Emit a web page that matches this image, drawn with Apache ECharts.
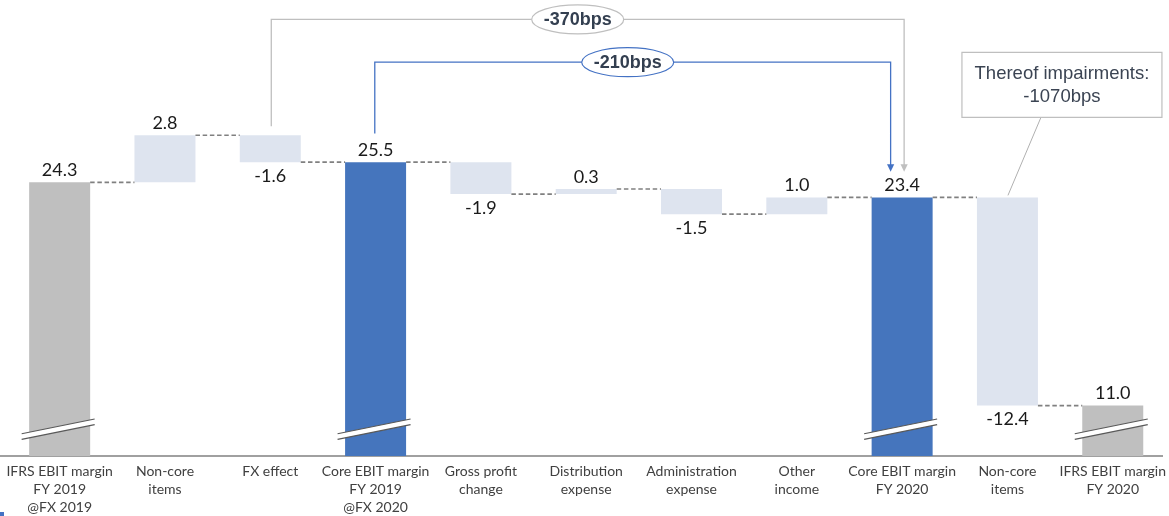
<!DOCTYPE html>
<html><head><meta charset="utf-8">
<script src="https://cdn.jsdelivr.net/npm/echarts@6/dist/echarts.min.js"></script>
<style>html,body{margin:0;padding:0;background:#fff}#c{width:1169px;height:516px}</style>
</head><body><div id="c"></div>
<script>
// ---- data ----
const categories = [
  'IFRS EBIT margin\nFY 2019\n@FX 2019', 'Non-core\nitems', 'FX effect',
  'Core EBIT margin\nFY 2019\n@FX 2020', 'Gross profit\nchange', 'Distribution\nexpense',
  'Administration\nexpense', 'Other\nincome', 'Core EBIT margin\nFY 2020',
  'Non-core\nitems', 'IFRS EBIT margin\nFY 2020'
];
const values = [24.3, 2.8, -1.6, 25.5, -1.9, 0.3, -1.5, 1.0, 23.4, -12.4, 11.0];
const kinds  = ['gray', 'delta', 'delta', 'blue', 'delta', 'delta', 'delta', 'delta', 'blue', 'delta', 'gray'];
const bracketFrom = [2, 3];      // category index where each bracket starts
const bracketTo   = [8, 8];      // category index where each bracket ends (arrow)
const bracketTop  = [34.0, 31.45]; // level of horizontal part of each bracket
const calloutIndex = 9;
const calloutText = 'Thereof impairments:\n-1070bps';

// ---- styling ----
const Y_MIN = 8, Y_MAX = 34.5, BREAK_LEVEL = 9.6, BAR_W = 61;
const COLORS = { gray: '#bfbfbf', blue: '#4575bd', delta: '#dee4ef' };
const BRACKET_STYLE = [
  { color: '#bfbfbf', startDx: 1, startDy: -9, endDx: 2, labelDx: -10 },
  { color: '#4472c4', startDx: -0.8, startDy: -28.7, endDx: -11.5, labelDx: -5 }
];

// running levels
const lows = [], highs = [], ends = [];
let run = 0;
values.forEach((v, i) => {
  if (kinds[i] !== 'delta') { lows.push(0); highs.push(v); run = v; }
  else { const s = run; run = Math.round((run + v) * 10) / 10; lows.push(Math.min(s, run)); highs.push(Math.max(s, run)); }
  ends.push(run);
});

const baseData = values.map((v, i) => kinds[i] === 'delta' ? lows[i] : 0);
const visData = values.map((v, i) => ({
  value: kinds[i] === 'delta' ? Math.abs(v) : v,
  itemStyle: { color: COLORS[kinds[i]] },
  label: (kinds[i] === 'delta' && v < 0) ? { position: 'bottom', distance: 5 } : { position: 'top', distance: 3 }
}));
const connData = ends.slice(0, -1).map((e, i) => [i, e]);
const breakData = kinds.map((k, i) => k !== 'delta' ? [i, BREAK_LEVEL] : null).filter(Boolean);
const bracketData = bracketFrom.map((f, j) => [f, highs[f], bracketTo[j], ends[bracketTo[j]], bracketTop[j], j]);

const chart = echarts.init(document.getElementById('c'), null, { renderer: 'canvas' });
chart.setOption({
  animation: false,
  grid: { left: 7, right: 3, top: 11, bottom: 60 },
  xAxis: {
    type: 'category', data: categories,
    axisLine: { show: false }, axisTick: { show: false },
    axisLabel: { interval: 0, margin: 6, fontFamily: 'Lato', fontSize: 14, lineHeight: 18, color: '#404040' }
  },
  yAxis: { type: 'value', min: Y_MIN, max: Y_MAX, show: false, splitLine: { show: false } },
  graphic: [
    { type: 'line', shape: { x1: 0, y1: 456, x2: 1163, y2: 456 }, style: { stroke: '#a0a0a0', lineWidth: 2 } },
    { type: 'rect', shape: { x: 0, y: 512, width: 4, height: 4 }, style: { fill: '#4472c4' } }
  ],
  series: [
    { type: 'bar', stack: 'w', data: baseData, barWidth: BAR_W, itemStyle: { color: 'transparent' }, silent: true, z: 2 },
    {
      type: 'bar', stack: 'w', data: visData, barWidth: BAR_W, z: 2,
      label: {
        show: true, fontFamily: 'Lato', fontSize: 18, color: '#1a1a1a',
        formatter: p => values[p.dataIndex].toFixed(1)
      }
    },
    {
      type: 'custom', z: 3, data: connData,
      renderItem: (params, api) => {
        const i = api.value(0), lvl = api.value(1);
        const a = api.coord([i, lvl]), b = api.coord([i + 1, lvl]);
        return { type: 'line', shape: { x1: a[0] + BAR_W / 2, y1: a[1], x2: b[0] - BAR_W / 2, y2: b[1] },
          style: { stroke: '#808080', lineWidth: 1.7, lineDash: [4.5, 2.7] } };
      }
    },
    {
      type: 'custom', z: 4, data: breakData,
      renderItem: (params, api) => {
        const c = api.coord([api.value(0), api.value(1)]);
        const x0 = c[0] - 38, x1 = c[0] + 35, yl = c[1] + 7.4, yr = c[1] - 7.3, h = 2.8;
        return { type: 'group', children: [
          { type: 'polygon', shape: { points: [[x0, yl - h], [x1, yr - h], [x1, yr + h], [x0, yl + h]] }, style: { fill: '#fff' } },
          { type: 'line', shape: { x1: x0, y1: yl - h, x2: x1, y2: yr - h }, style: { stroke: '#595959', lineWidth: 1.2 } },
          { type: 'line', shape: { x1: x0, y1: yl + h, x2: x1, y2: yr + h }, style: { stroke: '#595959', lineWidth: 1.2 } }
        ] };
      }
    },
    {
      type: 'custom', z: 5, data: bracketData,
      renderItem: (params, api) => {
        const f = api.value(0), fl = api.value(1), t = api.value(2), tl = api.value(3), top = api.value(4), j = api.value(5);
        const st = BRACKET_STYLE[j];
        const a = api.coord([f, fl]), b = api.coord([t, tl]), yt = api.coord([f, top])[1];
        const xs = a[0] + st.startDx, ys = a[1] + st.startDy;
        const xe = b[0] + st.endDx, tip = b[1] - 25.6;
        const label = Math.round((tl - fl) * 100) + 'bps';
        const cx = (xs + xe) / 2 + st.labelDx;
        return { type: 'group', children: [
          { type: 'polyline', shape: { points: [[xs, ys], [xs, yt], [xe, yt], [xe, tip - 6]] }, style: { stroke: st.color, lineWidth: 1.3, fill: null } },
          { type: 'polygon', shape: { points: [[xe - 3.6, tip - 7.5], [xe + 3.6, tip - 7.5], [xe, tip]] }, style: { fill: st.color } },
          { type: 'ellipse', shape: { cx: cx, cy: yt, rx: 46, ry: 14.5 }, style: { fill: '#fff', stroke: st.color, lineWidth: 1.2 } },
          { type: 'text', style: { text: label, x: cx, y: yt + 1, align: 'center', verticalAlign: 'middle',
              font: 'bold 18px "Liberation Sans", Arial, sans-serif', fill: '#333f50' } }
        ] };
      }
    },
    {
      type: 'custom', z: 5, data: [[calloutIndex, ends[calloutIndex - 1]]],
      renderItem: (params, api) => {
        const c = api.coord([api.value(0), api.value(1)]);
        const left = c[0] - 45.5, w = 200, bottom = c[1] - 80, top = c[1] - 145;
        return { type: 'group', children: [
          { type: 'line', shape: { x1: c[0] + 33.5, y1: bottom, x2: c[0] + 0.5, y2: c[1] - 2 }, style: { stroke: '#b0b0b0', lineWidth: 1 } },
          { type: 'rect', shape: { x: left, y: top, width: w, height: bottom - top }, style: { fill: '#fff', stroke: '#bfbfbf', lineWidth: 1.2 } },
          { type: 'text', style: { text: calloutText, x: left + w / 2, y: (top + bottom) / 2 + 0.5, align: 'center', verticalAlign: 'middle',
              font: '18.5px "Liberation Sans", Arial, sans-serif', lineHeight: 23.4, fill: '#3b4453' } }
        ] };
      }
    }
  ]
});
</script>
</body></html>
